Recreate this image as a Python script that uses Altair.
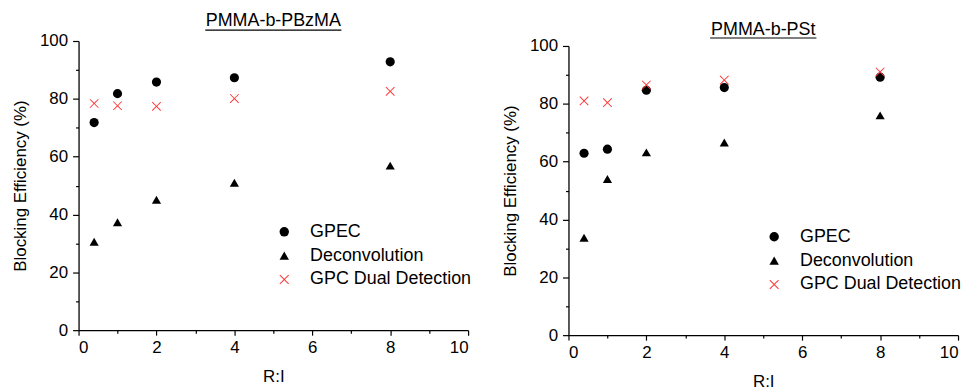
import altair as alt
import pandas as pd

ratio = [0.4, 1, 2, 4, 8]
series = ["GPEC", "Deconvolution", "GPC Dual Detection"]

bzma_gpec = [71.8, 81.8, 85.8, 87.3, 92.8]
bzma_deconv = [30.6, 37.3, 45.1, 51.0, 56.9]
bzma_dual = [78.4, 77.6, 77.4, 80.1, 82.6]

pst_gpec = [62.9, 64.3, 84.7, 85.6, 89.2]
pst_deconv = [33.7, 54.0, 63.2, 66.6, 76.0]
pst_dual = [81.0, 80.4, 86.5, 88.2, 91.0]

x_ticks = list(range(0, 11))
y_ticks = list(range(0, 101, 10))

colors = ["#000000", "#000000", "#ff3333"]
X_PATH = "M-1,-0.86L-0.86,-1L0,-0.14L0.86,-1L1,-0.86L0.14,0L1,0.86L0.86,1L0,0.14L-0.86,1L-1,0.86L-0.14,0Z"
shapes = ["circle", "triangle-up", X_PATH]

FONT = "Liberation Sans"
W, H = 392, 291


def make_df(gpec, deconv, dual):
    rows = []
    for name, vals in zip(series, [gpec, deconv, dual]):
        for r, v in zip(ratio, vals):
            rows.append({"ratio": r, "eff": v, "series": name})
    return pd.DataFrame(rows)


def panel(df, title, title_y, line_y, line_w, top):
    xaxis = alt.Axis(
        values=x_ticks,
        labelExpr="datum.value % 2 === 0 ? datum.label : ''",
        tickSize={"condition": {"test": "datum.value % 2 !== 0", "value": 3}, "value": 5},
        title="R:I",
        labelPadding=4,
        titlePadding=14,
    )
    yaxis = alt.Axis(
        values=y_ticks,
        labelExpr="datum.value % 20 === 0 ? datum.label : ''",
        tickSize={"condition": {"test": "datum.value % 20 !== 0", "value": 3}, "value": 6},
        title="Blocking Efficiency (%)",
        labelPadding=5,
        titlePadding=10,
    )
    legend = alt.Legend(
        title=None, orient="none", legendX=198, legendY=183 + top,
        labelFontSize=18, labelFont=FONT, labelColor="#000", labelLimit=300,
        symbolSize=90, labelOffset=17, rowPadding=6, padding=0,
        symbolStrokeWidth=0,
    )
    pts = alt.Chart(df).mark_point(filled=True, size=85, opacity=1).encode(
        x=alt.X("ratio:Q", scale=alt.Scale(domain=[0, 10], nice=False), axis=xaxis),
        y=alt.Y("eff:Q", scale=alt.Scale(domain=[0, 100], nice=False, range=[H + top, top]), axis=yaxis),
        color=alt.Color("series:N", scale=alt.Scale(domain=series, range=colors), legend=legend),
        shape=alt.Shape("series:N", scale=alt.Scale(domain=series, range=shapes), legend=legend),
    )
    tdf = pd.DataFrame({"t": [title]})
    ttl = alt.Chart(tdf).mark_text(font=FONT, fontSize=18, color="#000", baseline="middle").encode(
        text="t:N", x=alt.value(W / 2), y=alt.value(title_y + top)
    )
    uline = alt.Chart(tdf).mark_rule(color="#000", strokeWidth=1.2).encode(
        x=alt.value(W / 2 - line_w / 2), x2=alt.value(W / 2 + line_w / 2), y=alt.value(line_y + top)
    )
    return alt.layer(pts, ttl, uline).properties(width=W, height=H + top)


left = panel(make_df(bzma_gpec, bzma_deconv, bzma_dual), "PMMA-b-PBzMA", -20, -11, 137, 0)
right = panel(make_df(pst_gpec, pst_deconv, pst_dual), "PMMA-b-PSt", -16, -8, 107, 5)

chart = (
    alt.hconcat(left, right, spacing=29)
    .resolve_scale(color="independent", shape="independent")
    .resolve_legend(color="independent", shape="independent")
    .configure_view(stroke=None)
    .configure_axis(
        grid=False,
        domainColor="#000",
        domainWidth=1.3,
        tickColor="#000",
        tickWidth=1.2,
        labelFont=FONT,
        labelFontSize=17,
        labelColor="#000",
        titleFont=FONT,
        titleFontSize=17,
        titleFontWeight="normal",
        titleColor="#000",
    )
    .properties(background="white", padding={"left": 3, "top": 3, "right": 0, "bottom": 0})
)

chart.save("out.html", embed_options={"renderer": "svg", "actions": False})
